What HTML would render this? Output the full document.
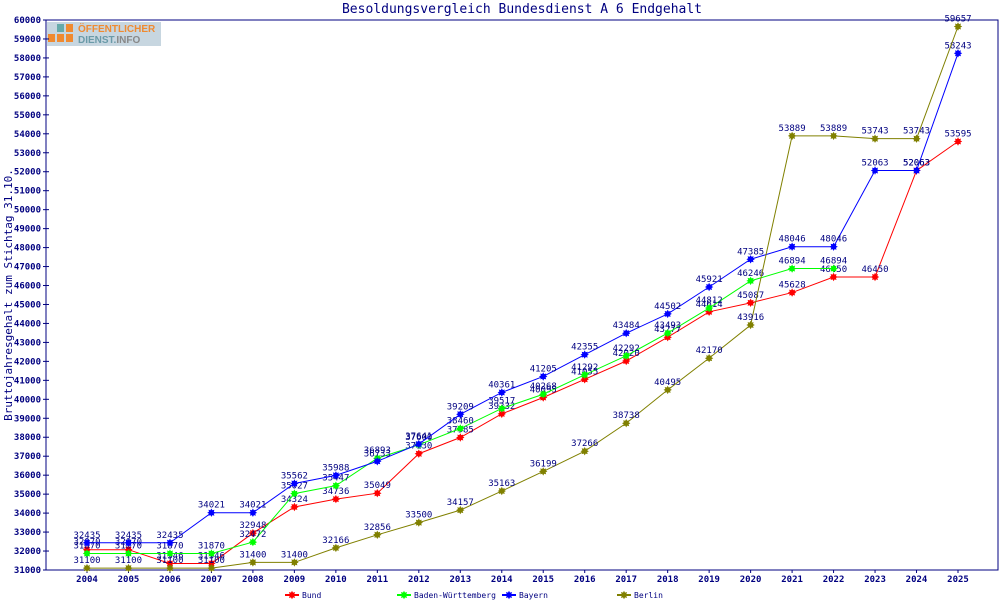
<!DOCTYPE html>
<html><head><meta charset="utf-8"><style>
body{margin:0;background:#fff;}
svg{display:block;font-family:"DejaVu Sans Mono","Liberation Mono",monospace;}
</style></head><body>
<svg id="chart" width="1000" height="600" viewBox="0 0 1000 600" xmlns="http://www.w3.org/2000/svg">
<text x="522" y="13" text-anchor="middle" font-size="13" fill="#000080">Besoldungsvergleich Bundesdienst A 6 Endgehalt</text>
<text transform="translate(12,295) rotate(-90)" text-anchor="middle" font-size="11" fill="#000080">Bruttojahresgehalt zum Stichtag 31.10.</text>
<g>
<rect x="47" y="22" width="114" height="24" fill="#b9ccd8" opacity="0.8"/>
<rect x="57" y="24" width="7" height="8" fill="#6aa"/>
<rect x="66" y="24" width="7" height="8" fill="#f08a30"/>
<rect x="48" y="34" width="7" height="8" fill="#f08a30"/><rect x="57" y="34" width="7" height="8" fill="#f08a30"/><rect x="66" y="34" width="7" height="8" fill="#f08a30"/>
<text x="78" y="32" font-family="Liberation Sans,sans-serif" font-weight="bold" font-size="10" fill="#f08a30">ÖFFENTLICHER</text>
<text x="78" y="43" font-family="Liberation Sans,sans-serif" font-weight="bold" font-size="10" fill="#6a9aa8">DIENST.<tspan fill="#888">INFO</tspan></text>
</g>
<g id="axes"></g><g id="series"></g><g id="legend"></g>
</svg>
<script>
const years=[2004,2005,2006,2007,2008,2009,2010,2011,2012,2013,2014,2015,2016,2017,2018,2019,2020,2021,2022,2023,2024,2025];
const bund=[32070,32070,31346,31346,32948,34324,34736,35049,37130,37985,39232,40095,41055,42020,43277,44614,45087,45628,46450,46450,52063,53595];
const bw=[31870,31870,31870,31870,32472,35027,35447,36893,37600,38460,39517,40268,41292,42292,43493,44812,46246,46894,46894,null,null,null];
const bayern=[32435,32435,32435,34021,34021,35562,35988,36733,37641,39209,40361,41205,42355,43484,44502,45921,47385,48046,48046,52063,52063,58243];
const berlin=[31100,31100,31100,31100,31400,31400,32166,32856,33500,34157,35163,36199,37266,38738,40495,42170,43916,53889,53889,53743,53743,59657];
const seriesNames=["Bund","Baden-Württemberg","Bayern","Berlin"];
const yTicks=[31000,32000,33000,34000,35000,36000,37000,38000,39000,40000,41000,42000,43000,44000,45000,46000,47000,48000,49000,50000,51000,52000,53000,54000,55000,56000,57000,58000,59000,60000];
const NS="http://www.w3.org/2000/svg";
const L=46,R=998,T=20,B=570,YMIN=31000,YMAX=60000;
const xs=i=>87+i*(958-87)/(years.length-1);
const ys=v=>B-(v-YMIN)/(YMAX-YMIN)*(B-T);
function mk(tag,attrs,parent,txt){const e=document.createElementNS(NS,tag);for(const k in attrs)e.setAttribute(k,attrs[k]);if(txt!=null)e.textContent=txt;parent.appendChild(e);return e;}
const ax=document.getElementById('axes');
let fr=mk('rect',{x:L,y:T,width:R-L,height:B-T,fill:'none',stroke:'#000080','stroke-width':1},ax);


yTicks.forEach(v=>{const y=ys(v);
 mk('line',{x1:L-3,x2:L+3,y1:y,y2:y,stroke:'#000080'},ax);
 let t=mk('text',{x:L-5,y:y+3,'text-anchor':'end','font-size':9,'font-weight':'bold',fill:'#000080'},ax,v);
 
 
});
years.forEach((yr,i)=>{const x=xs(i);
 mk('line',{x1:x,x2:x,y1:B,y2:B+3,stroke:'#000080'},ax);
 let t=mk('text',{x:x,y:B+12,'text-anchor':'middle','font-size':9,'font-weight':'bold',fill:'#000080'},ax,yr);
 
 
});
function star(g,x,y,c){let p=[];for(let k=0;k<16;k++){const r=k%2?2.6:4.2;const a=k*Math.PI/8;p.push((x+r*Math.cos(a)).toFixed(1)+','+(y+r*Math.sin(a)).toFixed(1));}
 return mk('polygon',{points:p.join(' '),fill:c},g);}
const colors=['#ff0000','#00ff00','#0000ff','#808000'];
const data=[bund,bw,bayern,berlin];
const sg=document.getElementById('series');
data.forEach((arr,si)=>{const g=mk('g',{},sg);
 
 
 let pts=[];arr.forEach((v,i)=>{if(v!=null)pts.push(xs(i)+','+ys(v));});
 mk('polyline',{points:pts.join(' '),fill:'none',stroke:colors[si],'stroke-width':1},g);
 arr.forEach((v,i)=>{if(v==null)return;
  let m=star(g,xs(i),ys(v),colors[si]);
  
  
  mk('text',{x:xs(i),y:ys(v)-5,'text-anchor':'middle','font-size':9,fill:'#000080'},g,v);
 });
});
const lg=document.getElementById('legend');
const lx=[285,397,502,617];
seriesNames.forEach((n,i)=>{const g=mk('g',{},lg);
 
 
 mk('line',{x1:lx[i],x2:lx[i]+14,y1:595,y2:595,stroke:colors[i],'stroke-width':2},g);
 star(g,lx[i]+7,595,colors[i]);
 mk('text',{x:lx[i]+17,y:598,'font-size':8,fill:'#000080'},g,n);
});
</script>
</body></html>
